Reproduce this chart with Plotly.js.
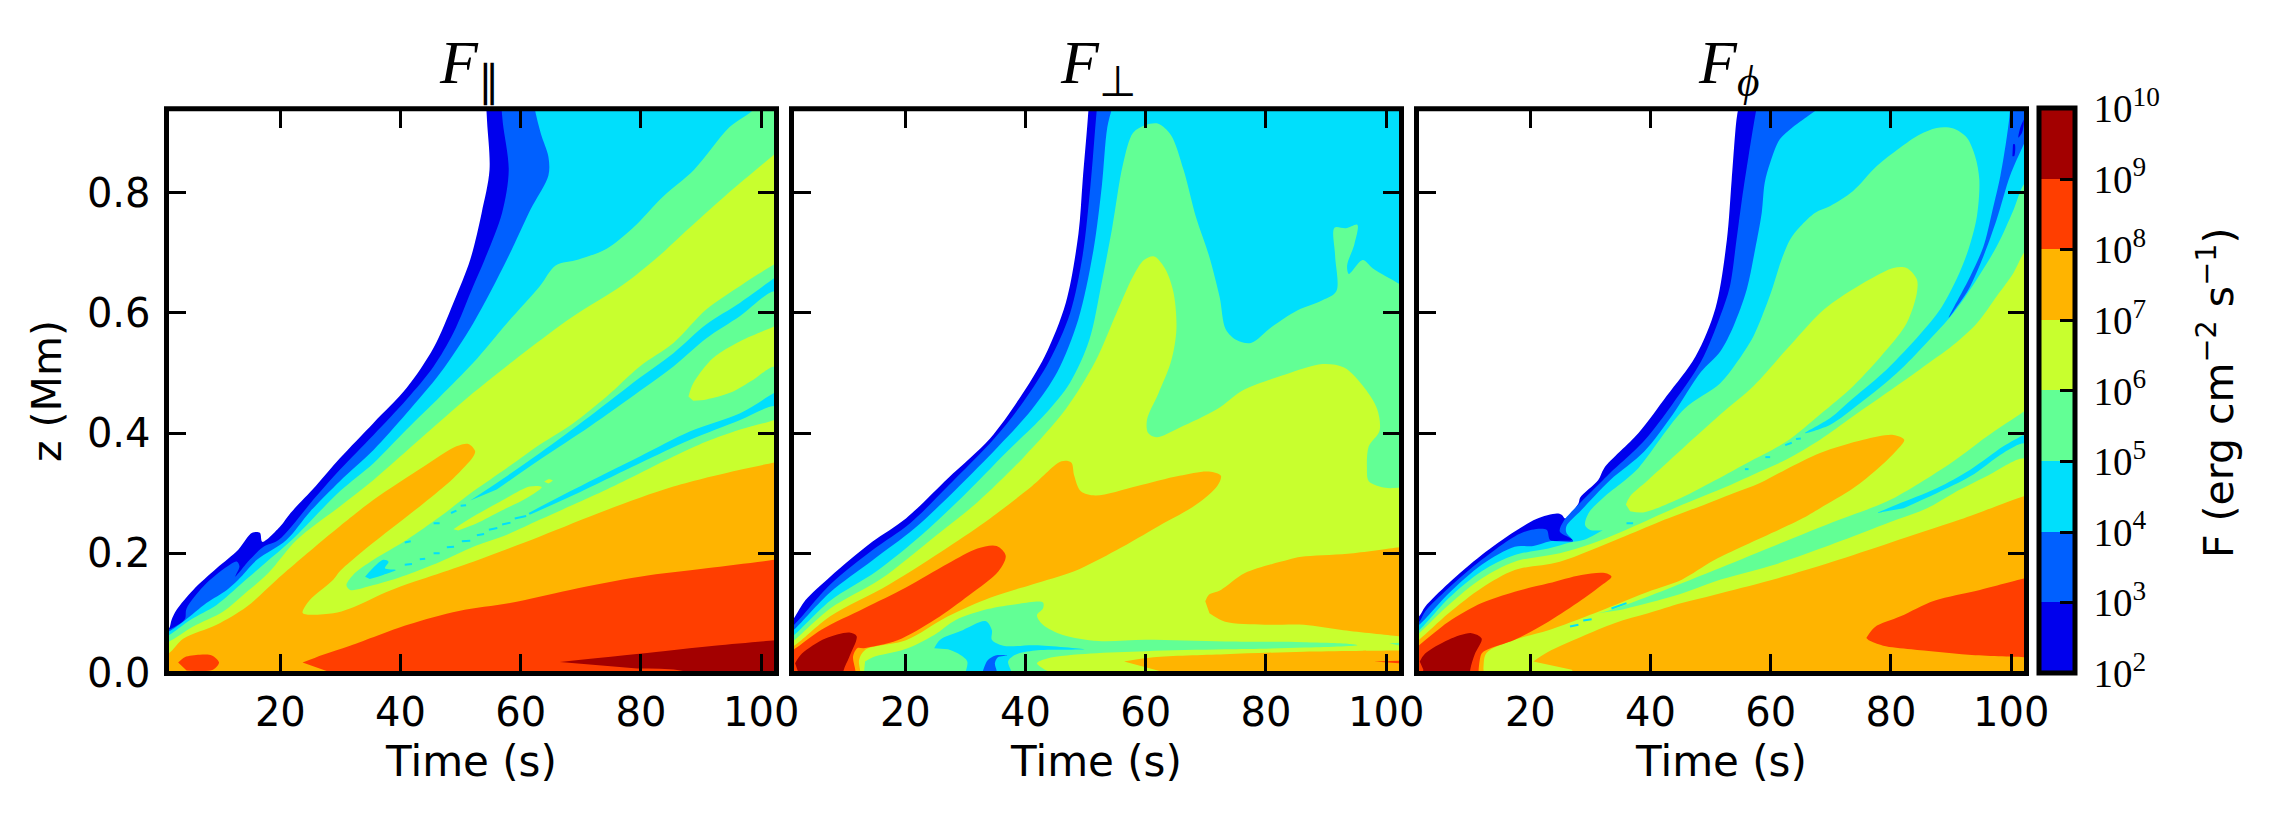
<!DOCTYPE html>
<html><head><meta charset="utf-8">
<script src="https://cdn.plot.ly/plotly-3.0.1.min.js"></script>
<style>html,body{margin:0;padding:0;background:#fff}</style></head>
<body><div id="chart" style="width:2292px;height:833px"></div>
<script>
// Flux levels (log10 F) and the band colours between them
const levels=[2,3,4,5,6,7,8,9,10];
const bandColors=['#0000ed','#0060ff','#00dffc','#62ff95','#c8ff2e','#ffb400','#ff3e00','#a30000'];
const tickVals=[20,40,60,80,100];
const zTicks=[0,0.2,0.4,0.6,0.8];

// Panel F_par: iso-flux outlines, [time s, z Mm]
const par_L2=[[0,.06],[1.5,.075],[1.9,.089],[2.75,.106],[5.5,.139],[9.4,.175],[13,.206],[15.3,.234],[16.6,.234],[17,.219],[20,.245],[21.7,.267],[25.9,.312],[29.9,.358],[35.5,.417],[41,.475],[45.5,.542],[48.8,.617],[51.6,.689],[53.5,.767],[54.8,.838],[54.4,.918],[54.2,.96],[54.3,1.02],[104,1.02],[104,-.02],[0,-.02]];
const par_L3=[[0,.07],[1.5,.073],[4.1,.09],[4.4,.108],[7.7,.15],[11.6,.181],[12.8,.186],[13.2,.178],[12.5,.161],[14.9,.189],[17.2,.211],[19.7,.222],[25.9,.294],[29.9,.339],[35.5,.397],[41,.456],[45.5,.511],[48.8,.567],[52.1,.645],[54,.689],[56.9,.767],[58,.838],[57,.918],[56.7,.96],[56.8,1.02],[104,1.02],[104,-.02],[0,-.02]];
const par_L4=[[0,.065],[1.5,.07],[4.1,.088],[7.7,.117],[11.1,.139],[13,.156],[16.1,.189],[21,.222],[25,.27],[29.9,.32],[35.5,.372],[41,.433],[46.6,.5],[52.1,.583],[57.7,.689],[61.6,.772],[64.6,.829],[64.6,.86],[63.3,.9],[62,.96],[62.1,1.02],[104,1.02],[104,-.02],[0,-.02]];
const par_L5=[[0,.058],[1.5,.064],[5,.089],[9.4,.114],[13.6,.15],[17.4,.183],[21.9,.222],[29.9,.303],[35.5,.35],[41,.406],[46.6,.461],[52.1,.517],[57.7,.583],[63.2,.645],[65.8,.679],[69.6,.689],[74.3,.707],[78.6,.741],[83.7,.794],[88.8,.838],[94.7,.909],[98.9,.94],[100,.96],[100.1,1.02],[104,1.02],[104,-.02],[0,-.02]];
const par_L6=[[0,.048],[1.5,.053],[5.5,.078],[10.5,.103],[14.1,.133],[18,.167],[22.7,.222],[29.9,.278],[35.5,.322],[43.8,.395],[52.1,.467],[60.4,.533],[68.8,.595],[77,.647],[83,.695],[87,.732],[93.9,.794],[102.3,.865],[104,.88],[104,.69],[102.2,.681],[96.5,.645],[90.9,.606],[85.4,.55],[79.8,.511],[74.3,.461],[68.8,.417],[63.2,.381],[57.7,.342],[52.1,.303],[46.6,.261],[41,.222],[35.5,.189],[32.1,.164],[31,.147],[31.6,.139],[35.5,.147],[41,.164],[46.6,.186],[52.1,.211],[57.7,.231],[63.2,.256],[68.8,.281],[74.3,.306],[79.8,.333],[85.4,.361],[90.9,.386],[96.5,.406],[102.2,.422],[104,.43],[104,-.02],[0,-.02]];
const par_L7=[[0,.03],[1.5,.034],[3.9,.058],[9.4,.081],[14.4,.111],[19.4,.156],[27.1,.222],[29.9,.245],[35.5,.289],[43.8,.344],[49.3,.378],[51.3,.382],[52.4,.37],[52.1,.361],[48.8,.325],[43.8,.283],[38.2,.239],[32.7,.195],[29.9,.17],[28.8,.156],[24.9,.122],[23.7,.101],[24.4,.098],[28.8,.1],[31.6,.108],[38.5,.139],[52.1,.186],[63.2,.228],[74.3,.272],[85.4,.311],[96.5,.339],[102.2,.351],[104,.355],[104,-.02],[0,-.02]];
const par_L8a=[[3,.018],[4.1,.027],[6.6,.031],[8.6,.03],[9.8,.018],[8.8,.006],[4.4,.005]];
const par_L8=[[23.7,.018],[27.1,.031],[31.6,.046],[41.2,.081],[49.7,.104],[58.2,.117],[68.2,.139],[79.8,.161],[90.9,.175],[102.2,.189],[104,.192],[104,-.02],[29,-.02],[27.7,.004]];
const par_L9=[[66.5,.019],[83.7,.037],[92.2,.046],[102.3,.055],[104,.056],[104,-.02],[92,-.02],[87,.004],[79.4,.008]];
const par_cyanA=[[51.6,.288],[56,.317],[63.2,.367],[71.5,.428],[79.8,.492],[85.4,.533],[90.9,.581],[96.5,.617],[102.2,.658],[104,.67],[104,.625],[102.2,.636],[96.5,.595],[90.9,.558],[85.4,.511],[79.8,.47],[71.5,.411],[63.2,.356],[56,.306]];
const par_cyanB=[[61.3,.267],[68.8,.306],[79.8,.361],[88.2,.403],[96.5,.433],[102.2,.467],[104,.475],[104,.438],[102.2,.445],[96.5,.422],[88.2,.389],[79.8,.35],[68.8,.297],[61.5,.264]];
const par_cyanC=[[34.1,.161],[37.1,.189],[38,.186],[37.4,.175],[39.2,.172],[37.1,.164],[34.9,.157]];
const par_isleA=[[48.8,.24],[52.1,.261],[56.6,.286],[61.5,.311],[63.5,.31],[61,.292],[56.6,.27],[52.7,.25],[49.6,.238]];
const par_isleB=[[63.9,.319],[64.6,.323],[65.3,.321],[64.6,.316]];
const par_isleC=[[87.9,.461],[88.7,.483],[92,.525],[96.5,.553],[102.2,.578],[104,.588],[104,.5],[102.2,.511],[98.7,.489],[94.8,.467],[90.9,.456],[88.7,.454]];
const par_dashes=[[40.7,.181],[41.9,.182],[null,null],[43.2,.19],[44.1,.191],[null,null],[45.5,.2],[46.5,.2],[null,null],[47.7,.21],[48.9,.211],[null,null],[50.2,.22],[51.6,.221],[null,null],[52.7,.23],[53.9,.232],[null,null],[54.7,.239],[56.1,.242],[null,null],[56.9,.248],[58.3,.251],[null,null],[59,.258],[60.9,.262],[null,null],[45.5,.25],[46.5,.25],[null,null],[48.4,.267],[49.3,.271],[null,null],[50,.279],[50.9,.28],[null,null],[40.7,.218],[41.7,.22]];

// Panel F_perp
const perp_L2=[[0,.075],[1.47,.092],[3.4,.122],[7.5,.161],[14.5,.219],[20.1,.258],[27.1,.325],[34.1,.391],[39,.458],[43.2,.528],[46.7,.617],[48.8,.732],[49.5,.82],[50.6,.96],[50.7,1.02],[104,1.02],[104,-.02],[0,-.02]];
const perp_L3=[[0,.07],[1.5,.081],[7.5,.148],[14.5,.205],[20.8,.25],[27.1,.312],[34.8,.391],[39.7,.453],[43.9,.519],[47.4,.599],[49.5,.696],[50.8,.812],[51.6,.909],[52,.96],[52.1,1.02],[104,1.02],[104,-.02],[0,-.02]];
const perp_L4=[[0,.062],[1.5,.073],[7.5,.135],[14.5,.188],[21.5,.241],[28.5,.307],[35.5,.378],[41.1,.44],[45.3,.502],[48.8,.59],[51.3,.705],[52.7,.812],[53.6,.909],[54.8,.96],[54.9,1.02],[104,1.02],[104,-.02],[0,-.02]];
const perp_L5=[[0,.054],[1.5,.064],[7.5,.121],[15.2,.17],[22.9,.232],[29.9,.298],[36.9,.369],[43.2,.431],[47.4,.484],[50.6,.555],[52.7,.652],[54.4,.741],[56.2,.847],[57.9,.9],[60,.913],[62.1,.915],[64.2,.896],[66.3,.838],[68.4,.758],[70.5,.696],[72.3,.626],[73.3,.573],[75.1,.555],[77.5,.55],[81,.577],[85.2,.604],[89.4,.621],[91.7,.636],[91.5,.696],[91.4,.742],[93.3,.741],[95.2,.747],[94.7,.714],[93.5,.679],[93.8,.665],[96.1,.688],[97.8,.674],[102.2,.648],[104,.635],[104,-.02],[0,-.02]];
const perp_L6=[[0,.045],[1.5,.055],[7.5,.108],[15.9,.157],[24.3,.223],[32,.285],[39.7,.36],[46.7,.44],[51.6,.519],[55.1,.599],[57.9,.661],[59.7,.688],[61.4,.694],[63.2,.674],[64.6,.635],[65.1,.573],[64.2,.519],[62.1,.466],[60.2,.422],[60.4,.4],[61.8,.393],[65.6,.409],[71.9,.44],[76.1,.471],[83.1,.497],[89.4,.515],[93,.509],[96.4,.475],[98.5,.44],[98.9,.404],[97.1,.378],[96.8,.342],[97.1,.32],[99.9,.309],[102.2,.309],[104,.309],[104,-.02],[0,-.02]];
const perp_green=[[13.3,.02],[14.6,.027],[19.9,.04],[24.8,.064],[28.4,.089],[33.7,.107],[39,.116],[42.9,.118],[42.9,.108],[41.9,.097],[42.9,.081],[46.2,.064],[52.1,.054],[60,.056],[73.2,.053],[86.3,.052],[94.2,.049],[95.2,.047],[86.3,.043],[73.2,.04],[60,.037],[50.8,.033],[43.6,.025],[41.9,.017],[42.9,.008],[46,-.01],[13,-.01]];
const perp_greenB=[[100.5,.05],[102.2,.051],[104,.051],[104,.047],[102,.047]];
const perp_cyan=[[24.8,.042],[25.8,.056],[29.1,.07],[33.4,.087],[34.4,.072],[34.4,.056],[36.3,.046],[41.6,.047],[49.8,.04],[41.6,.038],[38.3,.031],[37.1,.02],[37.6,.004],[37.8,-.01],[30.1,-.01],[30.3,.02],[29.1,.031],[27.1,.04]];
const perp_blue=[[32.9,.004],[33.7,.022],[35,.03],[37,.03],[35.4,.027],[34.9,.017],[35.2,.004],[35.2,-.01],[32.8,-.01]];
const perp_L7=[[0,.04],[1.5,.046],[7.5,.095],[17.3,.148],[27.1,.21],[34.1,.258],[41.1,.312],[46,.353],[47.6,.351],[48.1,.329],[49.2,.303],[51.6,.296],[58.6,.312],[65.6,.329],[70.5,.336],[72.5,.329],[71.9,.312],[68.4,.281],[62.1,.245],[55.1,.205],[48.1,.17],[41.1,.148],[34.1,.126],[27.1,.095],[20.1,.055],[13.3,.039],[12.3,.022],[12.5,.003],[12.5,-.02],[0,-.02]];
const perp_midOrange=[[69.9,.12],[70.5,.131],[72.5,.139],[76.5,.167],[83.7,.189],[85.9,.194],[93.6,.199],[102.2,.21],[104,.212],[104,.06],[102.1,.062],[92.9,.072],[86.3,.081],[79.8,.081],[73.2,.086],[70.6,.1]];
const perp_lowOrange=[[56.4,.02],[61.3,.027],[73.2,.032],[86.3,.036],[102.1,.038],[104,.038],[104,-.02],[64,-.02],[62.3,.004]];
const perp_streak=[[98,.02],[102.1,.021],[104,.021],[104,.017],[102.1,.017]];
const perp_L8=[[0,.032],[1.5,.04],[6.1,.073],[13.1,.108],[20.1,.143],[27.1,.183],[32,.208],[35.2,.212],[36.7,.196],[35.5,.17],[30.6,.13],[25,.09],[18.7,.055],[13.1,.042],[12,.042],[11.3,.028],[11.7,.004],[11.7,-.02],[0,-.02]];
const perp_L9=[[1.66,.017],[2.8,.033],[6.7,.058],[10.7,.068],[11.9,.062],[10.7,.028],[9.7,.004],[9.5,-.02],[2,-.02],[2.1,.004]];

// Panel F_phi
const phi_L2=[[0,.085],[1.5,.095],[2.5,.111],[6.4,.15],[11.9,.197],[17.4,.236],[21,.257],[24.4,.266],[25.2,.264],[25.8,.258],[28,.283],[28.3,.293],[31.3,.322],[32.3,.342],[38,.4],[42.7,.462],[47.5,.528],[50.8,.608],[52.7,.722],[53.5,.822],[54.3,.922],[54.9,.96],[55,1.02],[104,1.02],[104,-.02],[0,-.02]];
const phi_L3=[[0,.078],[1.5,.086],[2.5,.103],[6.4,.142],[11.9,.189],[17.4,.228],[20.2,.239],[22.7,.239],[23.3,.222],[24.9,.221],[27.1,.222],[24.9,.236],[25.5,.253],[28.5,.286],[32.1,.322],[33.3,.334],[38.9,.387],[43.7,.449],[48.4,.519],[51.6,.595],[53.2,.644],[54.3,.722],[55.2,.789],[56.3,.861],[57.4,.928],[58,.96],[58.1,1.02],[104,1.02],[104,-.02],[0,-.02]];
const phi_L4=[[0,.073],[1.5,.081],[6.4,.133],[11.9,.181],[17.4,.211],[20.5,.212],[23.3,.22],[27.1,.22],[26,.234],[26,.245],[28.5,.272],[33.3,.322],[38.9,.369],[43.7,.431],[48.4,.502],[51.6,.536],[53.8,.578],[56,.639],[57.4,.706],[58.5,.767],[59,.817],[59.9,.85],[61.5,.889],[63.5,.908],[65.4,.922],[68.5,.945],[70,.96],[71,1.02],[104,1.02],[104,-.02],[0,-.02]];
const phi_L5=[[0,.063],[1.5,.072],[6.4,.125],[11.9,.17],[17.4,.197],[23,.208],[26.6,.218],[29.1,.223],[32.4,.239],[34.4,.241],[31.9,.238],[29.9,.239],[29.1,.247],[29.7,.267],[32.4,.295],[35.8,.322],[38,.342],[45.6,.44],[51.6,.483],[54.3,.517],[57.1,.561],[59,.606],[60.4,.645],[61.8,.689],[63.2,.722],[64.9,.744],[67.4,.767],[69.9,.778],[73.7,.803],[77.6,.844],[81.5,.875],[84.8,.897],[87.6,.908],[90.4,.907],[92.6,.892],[94,.861],[94.7,.822],[94.3,.761],[92.9,.706],[90.9,.656],[88.2,.606],[84.8,.564],[79.3,.506],[73.7,.458],[69.9,.425],[65.7,.4],[69.9,.414],[74.9,.45],[81,.5],[85.9,.55],[90.4,.6],[93.7,.647],[97.6,.711],[100.4,.772],[102.1,.814],[104,.83],[104,-.02],[0,-.02]];
const phi_lobe=[[35.9,.281],[36.6,.295],[39.6,.322],[51.6,.431],[57.1,.478],[62.6,.539],[68.2,.6],[71,.622],[76.5,.656],[80.4,.675],[82.6,.675],[84.3,.656],[84.3,.633],[82.6,.583],[79.3,.539],[73.7,.478],[68.2,.431],[62.6,.386],[56,.35],[49.9,.317],[44.4,.289],[38.8,.268],[36.6,.27]];
const phi_L6=[[0,.055],[1.5,.067],[6.4,.114],[11.9,.158],[17.4,.186],[24.9,.2],[30.5,.217],[36.6,.242],[44.4,.277],[52.7,.311],[58.2,.336],[62.6,.356],[68.2,.389],[73.7,.428],[79.3,.467],[84.8,.506],[90.4,.547],[94.3,.583],[97.6,.628],[100.4,.667],[102.1,.7],[104,.72],[104,-.02],[0,-.02]];
const phi_blueStreak=[[99.8,1.02],[99.8,.938],[99.3,.895],[98.2,.828],[96.8,.767],[95.4,.711],[93.2,.661],[89.6,.592],[90.8,.608],[92.9,.639],[95.4,.695],[97.6,.756],[99.8,.828],[102.1,.881],[104,.92],[104,1.02]];
const phi_darkA=[[102.1,.922],[101.5,.908],[101.2,.892],[101.8,.9],[102.1,.914]];
const phi_darkB=[[100.3,.881],[100.6,.881],[100.5,.861],[100.2,.861]];
const phi_L7=[[0,.045],[1.5,.056],[6.4,.1],[11.9,.142],[17.4,.172],[24.9,.186],[34.9,.225],[41.6,.253],[48.2,.278],[53.8,.3],[58.2,.317],[62.6,.34],[68.2,.367],[75.4,.389],[80.4,.397],[82.2,.389],[81,.372],[77.6,.339],[73.7,.308],[68.2,.275],[64.9,.256],[50.7,.189],[45.2,.156],[39.6,.136],[34.1,.114],[28.5,.092],[23,.072],[17.4,.056],[12.7,.034],[12.2,.01],[12.2,-.02],[0,-.02]];
const phi_green=[[31.3,.1],[34.1,.108],[39.6,.128],[45.2,.15],[50.7,.172],[60,.21],[71.5,.256],[79.3,.286],[84.8,.317],[90.4,.353],[95.9,.394],[102.1,.436],[104,.45],[104,.345],[102.1,.358],[95.9,.328],[90.4,.3],[86,.275],[81,.256],[70,.214],[60,.179],[50.7,.153],[45.2,.133],[39.6,.117],[35.2,.106]];
const phi_cyan=[[77.6,.267],[81,.281],[87.6,.308],[93.2,.339],[98.7,.378],[102.1,.397],[104,.405],[104,.375],[102.1,.383],[98.7,.367],[93.2,.328],[87.6,.3],[82.1,.275]];
const phi_wedge=[[20.5,.02],[23,.036],[28.5,.061],[34.1,.084],[39.6,.1],[45.2,.117],[50.7,.131],[60,.155],[70,.185],[80,.218],[91.5,.256],[102.1,.295],[104,.3],[104,-.02],[30,-.02],[26.9,.006]];
const phi_redLow=[[75.9,.059],[77.3,.077],[81.6,.095],[87.2,.121],[94.8,.139],[102.1,.158],[104,.162],[104,.027],[102.1,.027],[92.9,.031],[83.4,.04],[78.7,.046],[76.3,.055]];
const phi_L8=[[0,.036],[1.5,.047],[6.4,.086],[11.9,.117],[17.4,.136],[23,.15],[28.5,.164],[32.4,.167],[33.5,.161],[31.9,.147],[28.5,.122],[23,.086],[17.4,.056],[12.7,.039],[11.9,.033],[11.4,.006],[11.4,-.02],[0,-.02]];
const phi_L9=[[1.6,.02],[2.5,.033],[6.4,.056],[10.2,.067],[11.9,.058],[10.8,.033],[10,.006],[9.9,-.02],[2.2,-.02],[2.2,.006]];
const phi_dashes=[[55.7,.34],[56.3,.34],[null,null],[59.1,.36],[59.9,.36],[null,null],[62.4,.38],[63.5,.384],[null,null],[64.2,.39],[65,.391],[null,null],[36,.25],[37.1,.25],[null,null],[26.6,.078],[28,.081],[null,null],[28.8,.088],[30.2,.09],[null,null],[33.5,.108],[36,.117]];

const tickText=levels.map(k=>'\u200910<sup>'+k+'</sup>');
const panelTitles=['<i>F</i><sub>∥</sub>','<i>F</i><sub>⊥</sub>','<i>F</i><sub><i>ϕ</i></sub>'];

const W=2292,H=833;
const panelLeft=[166.5,791.5,1416.5], panelW=610, plotTop=108.7, plotBottom=673.4;
const tRange=[1.06,102.55], zRange=[0,0.94];
const titleX=[469,1098,1728];

function poly(pts,band,ax){return {x:pts.map(p=>p[0]),y:pts.map(p=>p[1]),xaxis:'x'+ax,yaxis:'y'+ax,type:'scatter',mode:'lines',
  fill:'toself',fillcolor:bandColors[band],line:{width:0,shape:'spline',smoothing:0.9,color:bandColors[band]},hoverinfo:'skip',showlegend:false};}
function dash(pts,band,ax){return {x:pts.map(p=>p[0]),y:pts.map(p=>p[1]),xaxis:'x'+ax,yaxis:'y'+ax,type:'scatter',mode:'lines',
  connectgaps:false,line:{width:2,color:bandColors[band]},hoverinfo:'skip',showlegend:false};}

const traces=[
 ...[[par_L2,0],[par_L3,1],[par_L4,2],[par_L5,3],[par_L6,4],[par_isleA,4],[par_isleB,4],[par_isleC,4],[par_cyanA,2],[par_cyanB,2],[par_cyanC,2],[par_L7,5],[par_L8a,6],[par_L8,6],[par_L9,7]].map(l=>poly(l[0],l[1],'')),
 dash(par_dashes,2,''),
 ...[[perp_L2,0],[perp_L3,1],[perp_L4,2],[perp_L5,3],[perp_L6,4],[perp_green,3],[perp_greenB,3],[perp_cyan,2],[perp_blue,1],[perp_L7,5],[perp_midOrange,5],[perp_lowOrange,5],[perp_streak,6],[perp_L8,6],[perp_L9,7]].map(l=>poly(l[0],l[1],'2')),
 ...[[phi_L2,0],[phi_L3,1],[phi_L4,2],[phi_L5,3],[phi_blueStreak,1],[phi_darkA,0],[phi_darkB,0],[phi_lobe,4],[phi_L6,4],[phi_green,3],[phi_cyan,2],[phi_L7,5],[phi_wedge,5],[phi_redLow,6],[phi_L8,6],[phi_L9,7]].map(l=>poly(l[0],l[1],'3')),
 dash(phi_dashes,2,'3'),
];

// discrete colour bar, carried by an empty marker trace
const stepScale=[];
bandColors.forEach((c,i)=>{stepScale.push([i/8,c]);stepScale.push([(i+1)/8,c]);});
traces.push({type:'scatter',mode:'markers',x:[null,null],y:[null,null],xaxis:'x',yaxis:'y',hoverinfo:'skip',showlegend:false,
  marker:{color:[levels[0],levels[8]],cmin:levels[0],cmax:levels[8],colorscale:stepScale,showscale:true,
    colorbar:{x:2038.5/W,xanchor:'left',xpad:0,ypad:0,thickness:36,thicknessmode:'pixels',len:(plotBottom-plotTop)/H,lenmode:'fraction',y:1-plotBottom/H,yanchor:'bottom',
      outlinewidth:5,outlinecolor:'#000',tickmode:'array',tickvals:levels,ticktext:tickText,ticks:'inside',ticklen:17.5,tickwidth:3,tickcolor:'#000',
      tickfont:{family:'Liberation Serif',size:39,color:'#000'}}}});

const layout={width:W,height:H,margin:{l:0,r:0,t:0,b:0},paper_bgcolor:'#fff',plot_bgcolor:'#fff',showlegend:false,annotations:[],shapes:[],
  font:{family:'DejaVu Sans',color:'#000'}};
const clear='rgba(0,0,0,0)';
['','2','3'].forEach((s,i)=>{
  layout['xaxis'+s]={domain:[panelLeft[i]/W,(panelLeft[i]+panelW)/W],range:tRange,anchor:'y'+s,tickmode:'array',tickvals:tickVals,ticktext:tickVals.map(String),
    ticks:'inside',ticklen:19,tickwidth:3,tickcolor:'#000',showline:true,linewidth:5,linecolor:clear,mirror:'allticks',showgrid:false,zeroline:false,
    tickfont:{family:'DejaVu Sans',size:40,color:'#000'},fixedrange:true,
    title:{text:'Time (s)',font:{family:'DejaVu Sans',size:42,color:'#000'},standoff:14}};
  layout['yaxis'+s]={domain:[1-plotBottom/H,1-plotTop/H],range:zRange,anchor:'x'+s,tickmode:'array',tickvals:zTicks,ticktext:zTicks.map(v=>v.toFixed(1)),
    ticks:'inside',ticklen:19,tickwidth:3,tickcolor:'#000',showline:true,linewidth:5,linecolor:clear,mirror:'allticks',showgrid:false,zeroline:false,
    showticklabels:i===0,ticklabelstandoff:3,tickfont:{family:'DejaVu Sans',size:40,color:'#000'},fixedrange:true,
    title:i===0?{text:'z (Mm)',font:{family:'DejaVu Sans',size:41,color:'#000'},standoff:14}:undefined};
  layout.shapes.push({type:'rect',xref:'x'+s+' domain',yref:'y'+s+' domain',x0:0,x1:1,y0:0,y1:1,line:{color:'#000',width:5},fillcolor:clear,layer:'above'});
  layout.annotations.push({text:panelTitles[i],xref:'paper',yref:'paper',x:titleX[i]/W,y:1-67/H,xanchor:'center',yanchor:'middle',showarrow:false,
    font:{family:'Liberation Serif',size:62,color:'#000'}});
});
layout.annotations.push({text:'F (erg cm<sup>−2</sup> s<sup>−1</sup>)',xref:'paper',yref:'paper',x:2216/W,y:1-393/H,xanchor:'center',yanchor:'middle',textangle:-90,showarrow:false,
  font:{family:'DejaVu Sans',size:41,color:'#000'}});
Plotly.newPlot('chart',traces,layout,{staticPlot:true,displayModeBar:false});
</script></body></html>
